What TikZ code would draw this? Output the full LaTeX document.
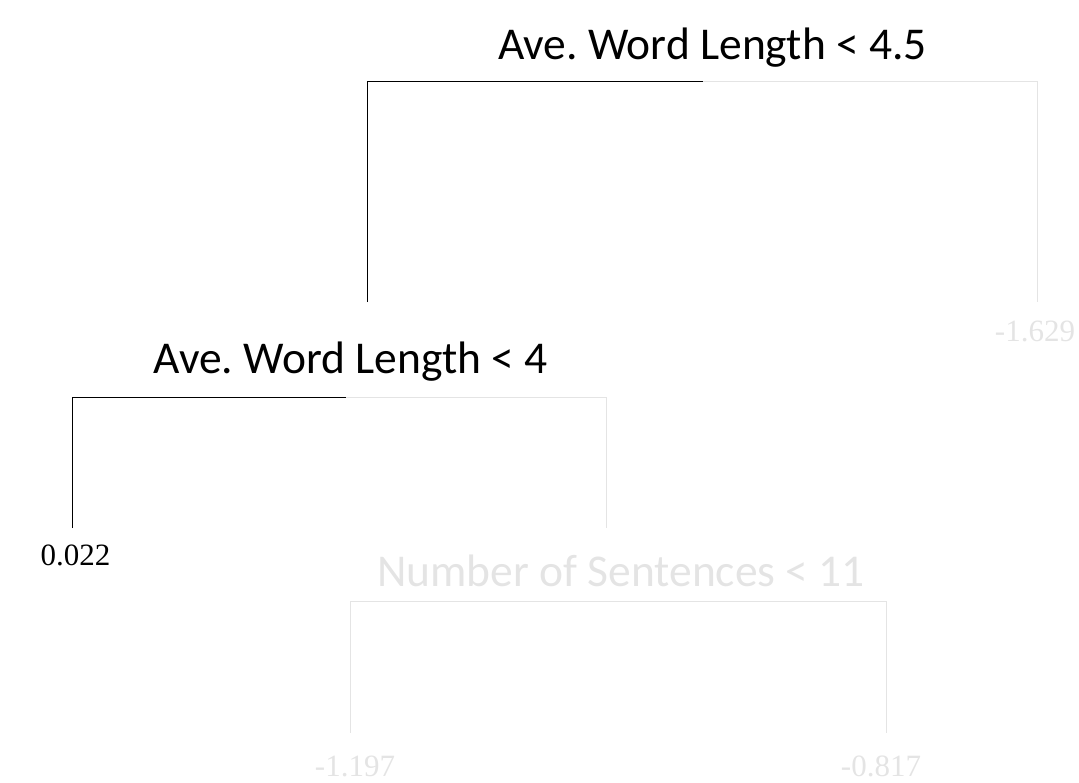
\documentclass[tikz,border=0pt]{standalone}
\usepackage{fontspec}
\newfontfamily\calfont{Carlito}
\newfontfamily\numfont{Liberation Serif}
\definecolor{faint}{RGB}{228,228,228}
\frenchspacing
\begin{document}
\begin{tikzpicture}[x=1pt,y=-1pt,
  black edge/.style={draw=black,line width=1pt},
  faint edge/.style={draw=faint,line width=1pt},
  split label/.style={anchor=base,inner sep=0pt,font=\calfont\fontsize{45.5}{50}\selectfont},
  leaf label/.style={anchor=base,inner sep=0pt,font=\numfont\fontsize{31}{34}\selectfont}]
\useasboundingbox (0,0) rectangle (1079,782);
% root split
\node[split label] (s1) at (712.5,59) {Ave. Word Length < 4.5};
\coordinate (s1l) at (367,81);
\coordinate (s1m) at (703,81);
\coordinate (s1r) at (1037,81);
\coordinate (s1lb) at (367,302);
\coordinate (s1rb) at (1037,302);
\draw[black edge] (s1lb) -- (s1l) -- (s1m);
\draw[faint edge] (s1m) -- (s1r) -- (s1rb);
\node[leaf label,text=faint] (l1) at (1035,341) {-1.629};
% second split
\node[split label] (s2) at (350.5,373) {Ave. Word Length < 4};
\coordinate (s2l) at (72,397);
\coordinate (s2m) at (346,397);
\coordinate (s2r) at (606,397);
\coordinate (s2lb) at (72,528);
\coordinate (s2rb) at (606,528);
\draw[black edge] (s2lb) -- (s2l) -- (s2m);
\draw[faint edge] (s2m) -- (s2r) -- (s2rb);
\node[leaf label] (l2) at (75.5,565) {0.022};
% third split
\node[split label,text=faint] (s3) at (621,586) {Number of Sentences < 11};
\coordinate (s3l) at (350,601);
\coordinate (s3r) at (886,601);
\coordinate (s3lb) at (350,733);
\coordinate (s3rb) at (886,733);
\draw[faint edge] (s3lb) -- (s3l) -- (s3r) -- (s3rb);
\node[leaf label,text=faint] (l3) at (355,776) {-1.197};
\node[leaf label,text=faint] (l4) at (881,776) {-0.817};
\end{tikzpicture}
\end{document}
